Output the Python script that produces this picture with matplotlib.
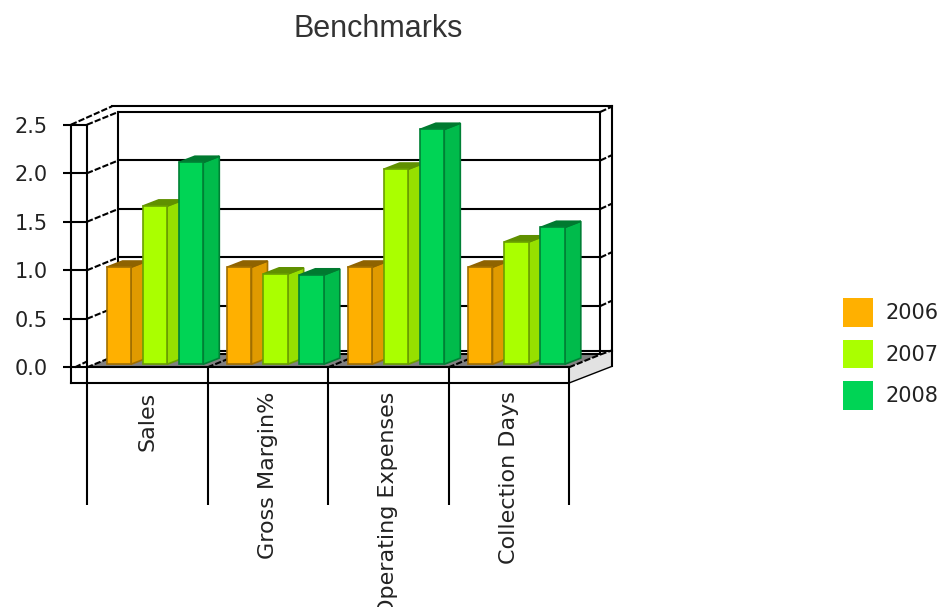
import matplotlib
matplotlib.use('Agg')
import matplotlib.pyplot as plt
from matplotlib.patches import Patch
import numpy as np

categories = ['Sales', 'Gross Margin%', 'Operating Expenses', 'Collection Days']
years = ['2006', '2007', '2008']
values_2006 = [1.0, 1.0, 1.0, 1.0]
values_2007 = [1.63, 0.93, 2.01, 1.26]
values_2008 = [2.08, 0.92, 2.42, 1.41]
y_ticks = [0.0, 0.5, 1.0, 1.5, 2.0, 2.5]

front_cols = ['#FFB000', '#AAFF00', '#00D455']
side_cols = ['#E09A00', '#96E000', '#00BB4B']
top_cols = ['#8F6300', '#609000', '#007A30']
edge_cols = ['#A06E00', '#6A9F00', '#008035']

# depth of the fake 3d, in data units (x: one category, y: value)
wall_dx, wall_dy = 0.261, 0.132
bar_dx, bar_dy = 0.133, 0.064
bar_base = 0.031
bar_w = 0.203
bar_step = 0.30
bar_start = 0.162

fig = plt.figure(figsize=(9.46, 6.07), dpi=100)
ax = fig.add_axes([87 / 946, 1 - 367.3 / 607, (569 - 87) / 946, (367.3 - 124.7) / 607])
ax.set_xlim(0, 4)
ax.set_ylim(0, 2.5)
ax.patch.set_alpha(0)


def line(xs, ys, lw=1.5, ls='-', z=1.5):
    ax.plot(xs, ys, color='black', lw=lw, ls=ls, clip_on=False, zorder=z)


# outer box
out_l, out_r = -0.133, 4.357
out_back_l = 0.207
out_top, out_bot = 2.689, -0.162
dash = (0, (3, 1))

# right hand light side of the floor
ax.fill([4, 4 + wall_dx, out_r, out_r, 4], [0, wall_dy, 0.17, 0.01, out_bot],
        facecolor='#E2E2E2', edgecolor='none', clip_on=False, zorder=1)
# floor
ax.fill([0, wall_dx, 4 + wall_dx, 4], [0, wall_dy, wall_dy, 0],
        facecolor='#808080', edgecolor='none', clip_on=False, zorder=1)

# back wall
for t in y_ticks[1:]:
    line([wall_dx, 4 + wall_dx], [t + wall_dy, t + wall_dy])
    line([0, wall_dx], [t, t + wall_dy], ls=dash)
    line([4 + wall_dx, out_r], [t + wall_dy, t + wall_dy + 0.055], ls=dash)
line([wall_dx, wall_dx], [wall_dy, 2.5 + wall_dy])
line([4 + wall_dx, 4 + wall_dx], [wall_dy, 2.5 + wall_dy])
line([wall_dx, 4 + wall_dx], [wall_dy, wall_dy])
line([wall_dx, out_r], [0.168, 0.168])
line([out_back_l, out_r], [out_top, out_top])
line([out_r, out_r], [0.01, out_top])
line([out_l, out_back_l], [2.5, out_top], ls=dash)
line([out_l, out_l], [out_bot, 2.5])
line([out_l, 4], [out_bot, out_bot])
line([4, out_r], [out_bot, 0.01], lw=1.0)
line([4 + wall_dx, out_r], [wall_dy, 0.175], ls=dash)
for i in range(5):
    line([i, i + wall_dx], [0, wall_dy], ls=dash, z=1.2)
line([-0.1, 0], [0, 0.06], ls=dash, z=1.2)

# bars, left to right so that each one covers the side of the previous
series = [values_2006, values_2007, values_2008]
z = 2
for i in range(len(categories)):
    for j in range(len(years)):
        v = series[j][i]
        x0 = i + bar_start + j * bar_step
        x1 = x0 + bar_w
        y1 = bar_base + v
        ax.fill([x1, x1 + bar_dx, x1 + bar_dx, x1],
                [bar_base, bar_base + bar_dy, y1 + bar_dy, y1],
                facecolor=side_cols[j], edgecolor=edge_cols[j], lw=1.2, clip_on=False, zorder=z)
        ax.fill([x0, x0 + bar_dx, x1 + bar_dx, x1],
                [y1, y1 + bar_dy, y1 + bar_dy, y1],
                facecolor=top_cols[j], edgecolor=top_cols[j], lw=1.2, clip_on=False, zorder=z)
        ax.bar(x0, v, bar_w, bottom=bar_base, align='edge', color=front_cols[j],
               edgecolor=edge_cols[j], lw=1.2, clip_on=False, zorder=z + 0.5)
        z += 1

for s in ['top', 'right']:
    ax.spines[s].set_visible(False)
for s in ['left', 'bottom']:
    ax.spines[s].set_linewidth(1.5)
    ax.spines[s].set_zorder(1.5)

ax.set_yticks(y_ticks)
ax.set_yticklabels(['%.1f' % t for t in y_ticks], fontsize=15, color='#222222')
ax.tick_params(axis='y', length=24 * 0.72, width=1.5, pad=15 * 0.72)
ax.set_xticks(np.arange(5))
ax.set_xticklabels([])
ax.tick_params(axis='x', which='major', length=138 * 0.72, width=1.5)
ax.set_xticks(np.arange(4) + 0.5, minor=True)
ax.set_xticklabels(categories, minor=True, rotation=90, fontsize=16, color='#222222', va='top')
ax.tick_params(axis='x', which='minor', length=0, pad=24 * 0.72)

fig.text(378.5 / 946, 1 - 29 / 607, 'Benchmarks', ha='center', va='center',
         family='Liberation Sans', fontsize=22, color='#333333')

handles = [Patch(facecolor=c, edgecolor='none', label=y) for c, y in zip(front_cols, years)]
leg = ax.legend(handles=handles, loc='upper left', bbox_to_anchor=(843 / 946, 1 - 298 / 607),
                bbox_transform=fig.transFigure, frameon=False, fontsize=15, handlelength=1.44,
                handleheight=1.73, labelspacing=0.63, handletextpad=0.62, borderpad=0,
                borderaxespad=0, labelcolor='#222222')

fig.savefig('out.png', dpi=100)
